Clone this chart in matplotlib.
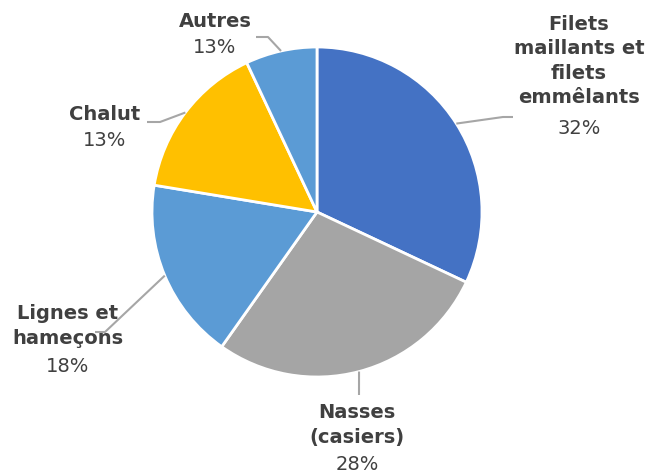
import numpy as np
import matplotlib
matplotlib.use("Agg")
import matplotlib.pyplot as plt

categories = ["Filets\nmaillants et\nfilets\nemmêlants", "Nasses\n(casiers)", "Lignes et\nhameçons", "Chalut", "Autres"]
values = [32, 27.8, 17.8, 15.4, 7.0]
pct_labels = ["32%", "28%", "18%", "13%", "13%"]
colors = ["#4472C4", "#A5A5A5", "#5B9BD5", "#FFC000", "#5B9BD5"]

W, H = 647, 473
fig = plt.figure(figsize=(W / 100, H / 100), dpi=100)
ax = fig.add_axes([0, 0, 1, 1])
ax.set_xlim(0, W)
ax.set_ylim(0, H)
ax.set_aspect("equal")
ax.axis("off")

cx, cy, R = 317, H - 212, 165
wedges, _ = ax.pie(values, startangle=90, counterclock=False, colors=colors,
                   center=(cx, cy), radius=R, frame=True,
                   wedgeprops=dict(edgecolor="white", linewidth=2))
ax.set_xlim(0, W)
ax.set_ylim(0, H)
ax.axis("off")

# label layout (pixel coords from top): name center x, name center y, pct y, elbow point, line end
layout = [
    dict(x=579, ny=61, py=128, elbow=(503, 117), end=(513, 117)),
    dict(x=357, ny=425, py=464, elbow=(359, 395), end=(359, 395)),
    dict(x=68, ny=326, py=366, elbow=(105, 332), end=(95, 332)),
    dict(x=105, ny=115, py=141, elbow=(160, 122), end=(147, 122)),
    dict(x=215, ny=22, py=48, elbow=(268, 37), end=(256, 37)),
]

txt_color = "#404040"
line_color = "#A6A6A6"
for w, name, pct, lay in zip(wedges, categories, pct_labels, layout):
    mid = np.deg2rad((w.theta1 + w.theta2) / 2)
    px, py = cx + R * np.cos(mid), cy + R * np.sin(mid)
    ex, ey = lay["elbow"]
    fx, fy = lay["end"]
    ax.plot([px, ex, fx], [py, H - ey, H - fy], color=line_color, lw=1.5,
            solid_capstyle="butt", zorder=1)
    ax.text(lay["x"], H - lay["ny"], name, ha="center", va="center",
            fontsize=14, fontweight="bold", color=txt_color,
            family="DejaVu Sans", linespacing=1.35)
    ax.text(lay["x"], H - lay["py"], pct, ha="center", va="center",
            fontsize=14, color=txt_color, family="DejaVu Sans")

fig.savefig("out.png", dpi=100)
